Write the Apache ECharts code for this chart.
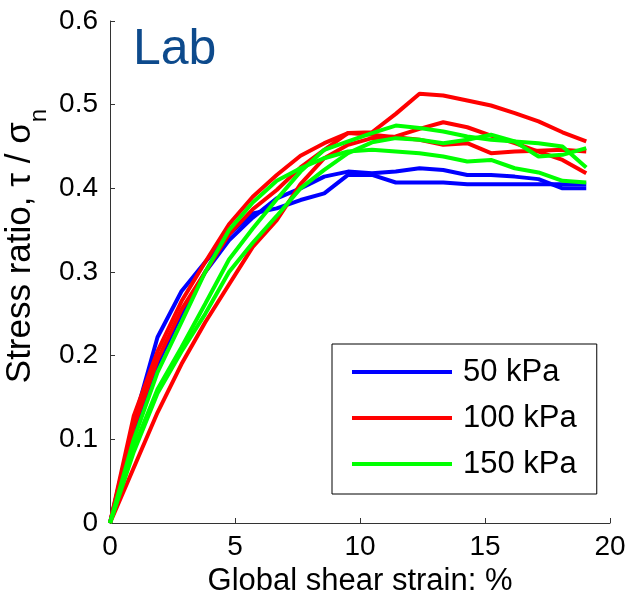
<!DOCTYPE html>
<html>
    <head>
        <script src="https://cdn.jsdelivr.net/npm/echarts@6.0.0/dist/echarts.min.js"></script>
        <style>
            html, body { margin: 0; padding: 0; background: #ffffff; }
            #chart { width: 634px; height: 593px; }
        </style>
    </head>
    <body>
        <div id="chart"></div>
        <script>
            // strain values (%) shared by all runs
            const strain = [0, 0.95, 1.9, 2.86, 3.81, 4.76, 5.71, 6.67, 7.62, 8.57, 9.52,
                10.48, 11.43, 12.38, 13.33, 14.29, 15.24, 16.19, 17.14, 18.1, 19.05];

            // stress ratio, 50 kPa runs
            const blue50a = [0, 0.11, 0.19, 0.25, 0.30, 0.338, 0.365, 0.388, 0.40, 0.414, 0.42,
                0.418, 0.42, 0.424, 0.422, 0.416, 0.416, 0.414, 0.411, 0.40, 0.40];
            const blue50b = [0, 0.12, 0.222, 0.277, 0.312, 0.345, 0.37, 0.376, 0.386, 0.394, 0.416,
                0.416, 0.407, 0.407, 0.407, 0.405, 0.405, 0.405, 0.405, 0.405, 0.405];

            // 100 kPa runs
            const red100a = [0, 0.128, 0.205, 0.265, 0.312, 0.357, 0.39, 0.416, 0.439, 0.454, 0.466,
                0.467, 0.489, 0.513, 0.511, 0.505, 0.499, 0.49, 0.48, 0.467, 0.456];
            const red100b = [0, 0.066, 0.132, 0.19, 0.24, 0.285, 0.33, 0.362, 0.405, 0.436, 0.452,
                0.46, 0.462, 0.471, 0.479, 0.473, 0.463, 0.454, 0.444, 0.434, 0.418];
            const red100c = [0, 0.115, 0.195, 0.255, 0.30, 0.345, 0.375, 0.398, 0.425, 0.446, 0.466,
                0.464, 0.461, 0.458, 0.452, 0.454, 0.442, 0.444, 0.445, 0.446, 0.444];

            // 150 kPa runs
            const green150a = [0, 0.10, 0.18, 0.24, 0.30, 0.35, 0.383, 0.409, 0.424, 0.436, 0.444,
                0.446, 0.444, 0.442, 0.438, 0.432, 0.434, 0.424, 0.419, 0.409, 0.407];
            const green150b = [0, 0.09, 0.16, 0.21, 0.262, 0.315, 0.352, 0.387, 0.42, 0.446, 0.456,
                0.466, 0.475, 0.472, 0.468, 0.462, 0.458, 0.456, 0.454, 0.45, 0.425];
            const green150c = [0, 0.085, 0.155, 0.205, 0.25, 0.30, 0.335, 0.367, 0.40, 0.422, 0.442,
                0.455, 0.46, 0.458, 0.454, 0.458, 0.464, 0.456, 0.438, 0.44, 0.448];

            const xTicks = [0, 5, 10, 15, 20];
            const yTicks = [0, 0.1, 0.2, 0.3, 0.4, 0.5, 0.6];

            const runs = [
                {name: '50 kPa', color: '#0000ff', values: blue50a},
                {name: '50 kPa', color: '#0000ff', values: blue50b},
                {name: '100 kPa', color: '#ff0000', values: red100a},
                {name: '100 kPa', color: '#ff0000', values: red100b},
                {name: '100 kPa', color: '#ff0000', values: red100c},
                {name: '150 kPa', color: '#00ff00', values: green150a},
                {name: '150 kPa', color: '#00ff00', values: green150b},
                {name: '150 kPa', color: '#00ff00', values: green150c}
            ];

            const font = 'Arial, "Liberation Sans", sans-serif';
            const chart = echarts.init(document.getElementById('chart'));

            chart.setOption({
                animation: false,
                backgroundColor: '#ffffff',
                grid: {left: 110, right: 24, top: 21, bottom: 70, containLabel: false, outerBoundsMode: 'none'},
                xAxis: {
                    type: 'value',
                    min: xTicks[0],
                    max: xTicks[xTicks.length - 1],
                    interval: 5,
                    splitLine: {show: false},
                    axisLine: {lineStyle: {color: '#333', width: 1}},
                    axisTick: {inside: true, length: 5, lineStyle: {color: '#333'}},
                    axisLabel: {color: '#000', fontSize: 28, fontFamily: font, margin: 10},
                    name: 'Global shear strain: %',
                    nameLocation: 'middle',
                    nameGap: 40,
                    nameTextStyle: {color: '#000', fontSize: 31, fontFamily: font}
                },
                yAxis: {
                    type: 'value',
                    min: yTicks[0],
                    max: yTicks[yTicks.length - 1],
                    interval: 0.1,
                    splitLine: {show: false},
                    axisLine: {show: true, lineStyle: {color: '#333', width: 1}},
                    axisTick: {show: true, inside: true, length: 5, lineStyle: {color: '#333'}},
                    axisLabel: {
                        color: '#000', fontSize: 28, fontFamily: font, margin: 12,
                        formatter: v => String(Math.round(v * 10) / 10)
                    }
                },
                legend: {
                    data: ['50 kPa', '100 kPa', '150 kPa'],
                    orient: 'vertical',
                    left: 332,
                    top: 344,
                    icon: 'rect',
                    itemWidth: 100,
                    itemHeight: 4,
                    itemGap: 12,
                    padding: [11, 20, 13, 20],
                    borderColor: '#000',
                    borderWidth: 1,
                    textStyle: {color: '#000', fontSize: 31, fontFamily: font, padding: [0, 0, 0, 6], lineHeight: 34}
                },
                graphic: [
                    {
                        type: 'text',
                        x: 133, y: 50,
                        style: {text: 'Lab', fill: '#0d4a8c', font: '50px ' + font, verticalAlign: 'middle'}
                    },
                    {
                        type: 'text',
                        x: 27, y: 246,
                        rotation: Math.PI / 2,
                        style: {
                            text: '{a|Stress ratio, τ / σ}{s|n}',
                            align: 'center',
                            verticalAlign: 'middle',
                            rich: {
                                a: {fontSize: 35, fontFamily: font, fill: '#000', lineHeight: 36, verticalAlign: 'top'},
                                s: {fontSize: 24, fontFamily: font, fill: '#000', lineHeight: 48, verticalAlign: 'bottom'}
                            }
                        }
                    }
                ],
                series: runs.map(r => ({
                    name: r.name,
                    type: 'line',
                    showSymbol: false,
                    symbol: 'none',
                    color: r.color,
                    lineStyle: {color: r.color, width: 4},
                    data: strain.map((x, i) => [x, r.values[i]])
                }))
            });
        </script>
    </body>
</html>
